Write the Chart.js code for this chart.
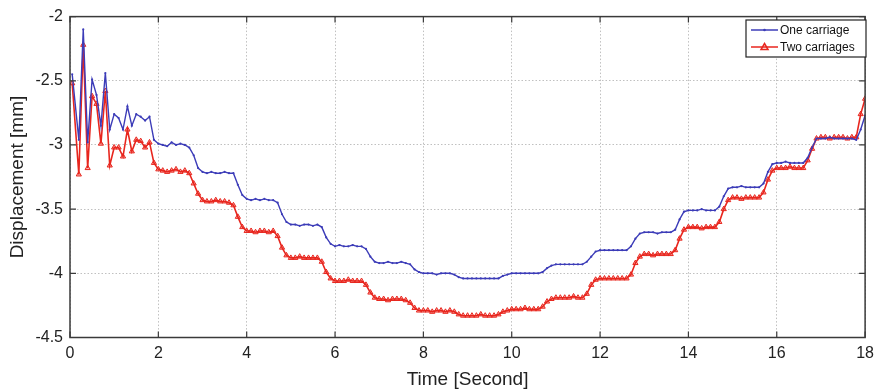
<!DOCTYPE html>
<html>
<head>
<meta charset="utf-8">
<script src="https://cdn.jsdelivr.net/npm/chart.js@4.4.1/dist/chart.umd.min.js"></script>
<style>
  html, body { margin: 0; padding: 0; background: #fff; }
  #wrap { width: 880px; height: 391px; position: relative; }
</style>
</head>
<body>
<div id="wrap"><canvas id="dispChart"></canvas></div>
<script>
// sample times (s)
const times = [
    0.05, 0.2, 0.3, 0.4, 0.5, 0.6, 0.7, 0.8, 0.9,
    1.0, 1.1, 1.2, 1.3, 1.4, 1.5, 1.6, 1.7, 1.8, 1.9,
    2.0, 2.1, 2.2, 2.3, 2.4, 2.5, 2.6, 2.7, 2.8, 2.9,
    3.0, 3.1, 3.2, 3.3, 3.4, 3.5, 3.6, 3.7, 3.8, 3.9,
    4.0, 4.1, 4.2, 4.3, 4.4, 4.5, 4.6, 4.7, 4.8, 4.9,
    5.0, 5.1, 5.2, 5.3, 5.4, 5.5, 5.6, 5.7, 5.8, 5.9,
    6.0, 6.1, 6.2, 6.3, 6.4, 6.5, 6.6, 6.7, 6.8, 6.9,
    7.0, 7.1, 7.2, 7.3, 7.4, 7.5, 7.6, 7.7, 7.8, 7.9,
    8.0, 8.1, 8.2, 8.3, 8.4, 8.5, 8.6, 8.7, 8.8, 8.9,
    9.0, 9.1, 9.2, 9.3, 9.4, 9.5, 9.6, 9.7, 9.8, 9.9,
    10.0, 10.1, 10.2, 10.3, 10.4, 10.5, 10.6, 10.7, 10.8, 10.9,
    11.0, 11.1, 11.2, 11.3, 11.4, 11.5, 11.6, 11.7, 11.8, 11.9,
    12.0, 12.1, 12.2, 12.3, 12.4, 12.5, 12.6, 12.7, 12.8, 12.9,
    13.0, 13.1, 13.2, 13.3, 13.4, 13.5, 13.6, 13.7, 13.8, 13.9,
    14.0, 14.1, 14.2, 14.3, 14.4, 14.5, 14.6, 14.7, 14.8, 14.9,
    15.0, 15.1, 15.2, 15.3, 15.4, 15.5, 15.6, 15.7, 15.8, 15.9,
    16.0, 16.1, 16.2, 16.3, 16.4, 16.5, 16.6, 16.7, 16.8, 16.9,
    17.0, 17.1, 17.2, 17.3, 17.4, 17.5, 17.6, 17.7, 17.8, 17.9,
    18.0
];

// displacement (mm), one carriage
const oneCarriage = [
    -2.45, -2.96, -2.10, -2.98, -2.49, -2.61, -2.85, -2.44, -2.88,
    -2.76, -2.79, -2.88, -2.70, -2.85, -2.76, -2.78, -2.81, -2.78, -2.96,
    -2.99, -3.00, -3.01, -2.98, -3.00, -2.99, -3.00, -3.02, -3.08, -3.18,
    -3.21, -3.22, -3.21, -3.22, -3.22, -3.21, -3.22, -3.22, -3.31, -3.39,
    -3.42, -3.43, -3.42, -3.43, -3.42, -3.43, -3.43, -3.45, -3.54, -3.60,
    -3.62, -3.62, -3.63, -3.62, -3.62, -3.63, -3.62, -3.64, -3.72, -3.77,
    -3.79, -3.78, -3.79, -3.79, -3.78, -3.79, -3.79, -3.81, -3.87, -3.91,
    -3.92, -3.92, -3.91, -3.92, -3.92, -3.91, -3.92, -3.93, -3.97, -3.99,
    -4.00, -4.00, -4.00, -4.01, -4.00, -4.00, -4.00, -4.01, -4.03, -4.04,
    -4.04, -4.04, -4.04, -4.04, -4.04, -4.04, -4.04, -4.04, -4.02, -4.01,
    -4.00, -4.00, -4.00, -4.00, -4.00, -4.00, -4.00, -3.99, -3.96, -3.94,
    -3.93, -3.93, -3.93, -3.93, -3.93, -3.93, -3.93, -3.91, -3.87, -3.83,
    -3.82, -3.82, -3.82, -3.82, -3.82, -3.82, -3.82, -3.79, -3.73, -3.69,
    -3.68, -3.68, -3.68, -3.69, -3.68, -3.68, -3.68, -3.66, -3.58, -3.52,
    -3.51, -3.51, -3.51, -3.50, -3.51, -3.51, -3.51, -3.48, -3.40, -3.34,
    -3.33, -3.33, -3.32, -3.33, -3.33, -3.33, -3.33, -3.30, -3.21, -3.15,
    -3.14, -3.14, -3.13, -3.14, -3.14, -3.14, -3.14, -3.10, -3.02, -2.95,
    -2.95, -2.95, -2.94, -2.95, -2.95, -2.95, -2.95, -2.95, -2.96, -2.88,
    -2.77
];

// displacement (mm), two carriages
const twoCarriages = [
    -2.52, -3.23, -2.22, -3.18, -2.62, -2.68, -2.99, -2.58, -3.16,
    -3.02, -3.02, -3.09, -2.88, -3.05, -2.96, -2.97, -3.02, -2.98, -3.14,
    -3.19, -3.20, -3.21, -3.20, -3.19, -3.21, -3.20, -3.22, -3.30, -3.38,
    -3.43, -3.44, -3.44, -3.43, -3.44, -3.44, -3.45, -3.47, -3.56, -3.64,
    -3.67, -3.67, -3.68, -3.67, -3.67, -3.68, -3.67, -3.71, -3.80, -3.86,
    -3.88, -3.88, -3.87, -3.88, -3.88, -3.88, -3.88, -3.91, -3.99, -4.04,
    -4.06, -4.06, -4.06, -4.05, -4.06, -4.06, -4.06, -4.09, -4.15, -4.19,
    -4.20, -4.20, -4.21, -4.20, -4.20, -4.20, -4.21, -4.23, -4.27, -4.29,
    -4.29, -4.29, -4.30, -4.29, -4.29, -4.30, -4.29, -4.30, -4.32, -4.33,
    -4.33, -4.33, -4.33, -4.32, -4.33, -4.33, -4.33, -4.32, -4.30, -4.29,
    -4.28, -4.28, -4.28, -4.27, -4.28, -4.28, -4.28, -4.26, -4.22, -4.20,
    -4.19, -4.19, -4.19, -4.19, -4.18, -4.19, -4.19, -4.16, -4.09, -4.05,
    -4.04, -4.04, -4.04, -4.04, -4.04, -4.04, -4.04, -4.01, -3.92, -3.87,
    -3.85, -3.85, -3.86, -3.85, -3.85, -3.85, -3.85, -3.82, -3.73, -3.66,
    -3.64, -3.64, -3.64, -3.65, -3.64, -3.64, -3.64, -3.60, -3.50, -3.43,
    -3.41, -3.41, -3.42, -3.41, -3.41, -3.41, -3.41, -3.37, -3.27, -3.20,
    -3.18, -3.18, -3.18, -3.17, -3.18, -3.18, -3.18, -3.12, -3.03, -2.95,
    -2.94, -2.94, -2.95, -2.94, -2.94, -2.94, -2.95, -2.94, -2.94, -2.76,
    -2.64
];

const xTicks = [0, 2, 4, 6, 8, 10, 12, 14, 16, 18];
const yTicks = [-4.5, -4, -3.5, -3, -2.5, -2];

const BLUE = '#3c3cb8';
const RED = '#e8261e';
const FONT = "'Liberation Sans', Arial, sans-serif";

// MATLAB-like box, inward ticks and legend
const matlabBox = {
    id: 'matlabBox',
    afterDraw(chart) {
        const { ctx, chartArea: a, scales } = chart;
        ctx.save();
        ctx.strokeStyle = '#3a3a3a';
        ctx.lineWidth = 1.5;
        ctx.strokeRect(a.left, a.top, a.right - a.left, a.bottom - a.top);
        ctx.lineWidth = 1.2;
        ctx.beginPath();
        xTicks.forEach(v => {
            const px = scales.x.getPixelForValue(v);
            ctx.moveTo(px, a.bottom); ctx.lineTo(px, a.bottom - 6);
            ctx.moveTo(px, a.top); ctx.lineTo(px, a.top + 6);
        });
        yTicks.forEach(v => {
            const py = scales.y.getPixelForValue(v);
            ctx.moveTo(a.left, py); ctx.lineTo(a.left + 6, py);
            ctx.moveTo(a.right, py); ctx.lineTo(a.right - 6, py);
        });
        ctx.stroke();

        // legend
        const lx = 746, ly = 20, lw = 120, lh = 37;
        ctx.fillStyle = '#fff';
        ctx.fillRect(lx, ly, lw, lh);
        ctx.strokeStyle = '#222';
        ctx.lineWidth = 1.2;
        ctx.strokeRect(lx, ly, lw, lh);
        ctx.font = '12px ' + FONT;
        ctx.textBaseline = 'middle';
        chart.data.datasets.forEach((ds, i) => {
            const y = ly + 10 + i * 17;
            ctx.strokeStyle = ds.borderColor;
            ctx.lineWidth = 1.5;
            ctx.beginPath();
            ctx.moveTo(lx + 5, y); ctx.lineTo(lx + 32, y);
            ctx.stroke();
            ctx.fillStyle = ds.borderColor;
            if (ds.pointStyle === 'triangle') {
                ctx.beginPath();
                ctx.moveTo(lx + 18.5, y - 3.5);
                ctx.lineTo(lx + 22, y + 2.5);
                ctx.lineTo(lx + 15, y + 2.5);
                ctx.closePath();
                ctx.stroke();
            } else {
                ctx.beginPath();
                ctx.arc(lx + 18.5, y, 1.3, 0, Math.PI * 2);
                ctx.fill();
            }
            ctx.fillStyle = '#111';
            ctx.fillText(ds.label, lx + 34, y + 0.5);
        });
        ctx.restore();
    }
};

const canvas = document.getElementById('dispChart');

new Chart(canvas, {
    type: 'line',
    data: {
        datasets: [
            {
                label: 'One carriage',
                data: times.map((t, i) => ({ x: t, y: oneCarriage[i] })),
                borderColor: BLUE,
                backgroundColor: BLUE,
                borderWidth: 1.4,
                pointStyle: 'circle',
                pointRadius: 1.1,
                pointBorderWidth: 0,
            },
            {
                label: 'Two carriages',
                data: times.map((t, i) => ({ x: t, y: twoCarriages[i] })),
                borderColor: RED,
                backgroundColor: 'rgba(232, 38, 30, 0.35)',
                borderWidth: 1.6,
                pointStyle: 'triangle',
                pointRadius: 3,
                pointBorderWidth: 1,
            },
        ],
    },
    options: {
        responsive: true,
        maintainAspectRatio: false,
        animation: false,
        layout: {
            padding: { left: 0, right: 10, top: 15, bottom: 0 },
        },
        scales: {
            x: {
                type: 'linear',
                min: 0,
                max: 18,
                afterFit: s => { s.height = 53.5; },
                afterBuildTicks: s => { s.ticks = xTicks.map(v => ({ value: v })); },
                border: { display: false, dash: [1.5, 2] },
                grid: {
                    color: '#c0c0c0',
                    lineWidth: 1,
                    drawTicks: false,
                },
                ticks: {
                    padding: 6,
                    color: '#222',
                    font: { family: FONT, size: 16 },
                    callback: v => String(v),
                },
                title: {
                    display: true,
                    text: 'Time [Second]',
                    color: '#222',
                    font: { family: FONT, size: 19 },
                    padding: { top: 0, bottom: 0 },
                },
            },
            y: {
                min: -4.5,
                max: -2,
                afterFit: s => { s.width = 70; },
                afterBuildTicks: s => { s.ticks = yTicks.map(v => ({ value: v })); },
                border: { display: false, dash: [1.5, 2] },
                grid: {
                    color: '#c0c0c0',
                    lineWidth: 1,
                    drawTicks: false,
                },
                ticks: {
                    padding: 7,
                    color: '#222',
                    font: { family: FONT, size: 16 },
                    callback: v => String(v),
                },
                title: {
                    display: true,
                    text: 'Displacement [mm]',
                    color: '#222',
                    font: { family: FONT, size: 19 },
                    padding: { top: 6, bottom: 0 },
                },
            },
        },
        plugins: {
            legend: { display: false },
            tooltip: { enabled: false },
        },
    },
    plugins: [matlabBox],
});
</script>
</body>
</html>
